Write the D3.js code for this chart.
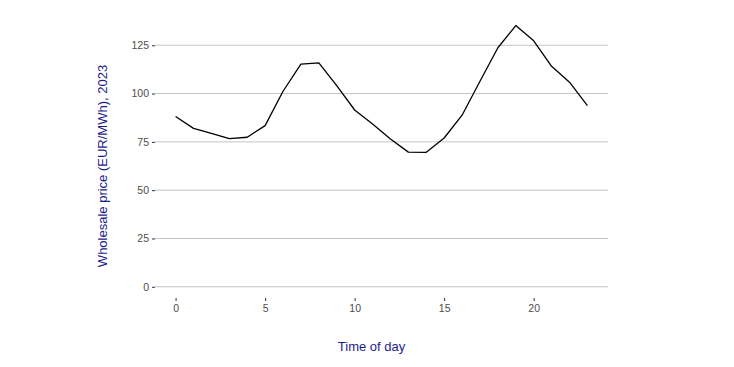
<!DOCTYPE html>
<html>
<head>
<meta charset="utf-8">
<script src="https://cdn.jsdelivr.net/npm/d3@7"></script>
<style>
  body { margin: 0; background: #fff; }
  .axis text { font-family: "Liberation Sans", Arial, sans-serif; font-size: 10.5px; fill: #4d4d4d; }
  .axis line { stroke: #333; }
  .title { font-family: "Liberation Sans", Arial, sans-serif; font-size: 13px; fill: #1c1c8c; }
</style>
</head>
<body>
<div id="chart"></div>
<script>
var hours = [0, 1, 2, 3, 4, 5, 6, 7, 8, 9, 10, 11, 12, 13, 14, 15, 16, 17, 18, 19, 20, 21, 22, 23];
var price = [88.1, 82.0, 79.4, 76.7, 77.4, 83.4, 101.2, 115.2, 115.9, 104.1, 91.5, 84.3, 76.5, 69.7, 69.6, 77.0,
             88.8, 106.4, 123.7, 135.2, 127.3, 114.1, 105.9, 93.8];
var xTicks = [0, 5, 10, 15, 20];
var yTicks = [0, 25, 50, 75, 100, 125];

var width = 734, height = 367;
var panel = { left: 155, right: 608, top: 13, bottom: 298 };

var svg = d3.select("#chart").append("svg")
    .attr("width", width)
    .attr("height", height);

var x = d3.scaleLinear().domain([-1.15, 24.15]).range([panel.left, panel.right]);
var y = d3.scaleLinear().domain([-5.8, 141.7]).range([panel.bottom, panel.top]);

// grid
svg.append("g").selectAll("line")
    .data(yTicks)
    .enter().append("line")
    .attr("x1", panel.left)
    .attr("x2", panel.right)
    .attr("y1", function (d) { return y(d); })
    .attr("y2", function (d) { return y(d); })
    .attr("stroke", "#c4c4c4")
    .attr("stroke-width", 1);

var yAxis = svg.append("g")
    .attr("class", "axis")
    .attr("transform", "translate(" + panel.left + ",0)")
    .call(d3.axisLeft(y).tickValues(yTicks).tickSize(3).tickPadding(3));
yAxis.select(".domain").remove();

var xAxis = svg.append("g")
    .attr("class", "axis")
    .attr("transform", "translate(0," + panel.bottom + ")")
    .call(d3.axisBottom(x).tickValues(xTicks).tickSize(3).tickPadding(4));
xAxis.select(".domain").remove();

var line = d3.line()
    .x(function (d, i) { return x(hours[i]); })
    .y(function (d) { return y(d); });

svg.append("path")
    .datum(price)
    .attr("d", line)
    .attr("fill", "none")
    .attr("stroke", "#000")
    .attr("stroke-width", 1.3)
    .attr("stroke-linejoin", "round");

svg.append("text")
    .attr("class", "title")
    .attr("x", (panel.left + panel.right) / 2 - 10)
    .attr("y", 351)
    .attr("text-anchor", "middle")
    .text("Time of day");

svg.append("text")
    .attr("class", "title")
    .attr("transform", "translate(107," + 166 + ") rotate(-90)")
    .attr("text-anchor", "middle")
    .text("Wholesale price (EUR/MWh), 2023");
</script>
</body>
</html>
